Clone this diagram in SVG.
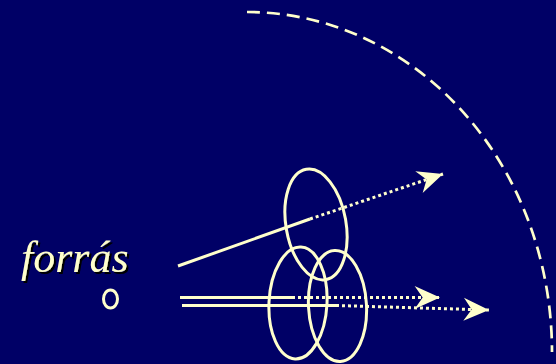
<svg xmlns="http://www.w3.org/2000/svg" width="556" height="364" viewBox="0 0 556 364">
<style>
.ln{fill:none;stroke:#FFFFCC;stroke-width:3}
.dot{fill:none;stroke:#FFFFCC;stroke-width:3;stroke-dasharray:3 3}
.lbl{font-family:"Liberation Serif","Times New Roman",serif;font-style:italic;font-size:44px}
</style>
<defs>
<marker id="ah" markerUnits="userSpaceOnUse" markerWidth="30" markerHeight="30" viewBox="-24 -12 26 24" refX="0" refY="0" orient="auto">
<path d="M0,0 L-22,-10 L-15,0 L-22,10 Z" fill="#FFFFCC"/>
</marker>
<filter id="sh" x="-10%" y="-10%" width="130%" height="130%">
<feDropShadow dx="2" dy="2" stdDeviation="0.4" flood-color="#000000" flood-opacity="1"/>
</filter>
</defs>
<rect width="556" height="364" fill="#000066"/>
<g id="horizon">
<path d="M247,12 A305,340 0 0 1 552,352" fill="none" stroke="#FFFFCC" stroke-width="2.7" stroke-dasharray="13 7"/>
</g>
<g id="source">
<text x="21" y="272" class="lbl" fill="#FFFFCC" filter="url(#sh)">forrás</text>
<ellipse cx="110.5" cy="299" rx="7" ry="9" class="ln" stroke-width="2.5"/>
</g>
<g id="lens-top">
<ellipse cx="316" cy="224.5" rx="30" ry="56" transform="rotate(-10 316 224.5)" class="ln"/>
</g>
<g id="lens-left">
<ellipse cx="298" cy="303" rx="29" ry="56" transform="rotate(3 298 303)" class="ln"/>
</g>
<g id="lens-right">
<ellipse cx="337.5" cy="306" rx="29" ry="55.5" transform="rotate(-3 337.5 306)" class="ln"/>
</g>
<g id="connectors">
<line x1="178" y1="266" x2="310" y2="219" class="ln"/>
<line x1="310" y1="219" x2="443" y2="174" class="dot" marker-end="url(#ah)"/>
<line x1="180" y1="297.5" x2="292" y2="297.5" class="ln"/>
<line x1="292" y1="297.5" x2="440" y2="297.5" class="dot" marker-end="url(#ah)"/>
<line x1="182" y1="305.5" x2="336" y2="305.5" class="ln"/>
<line x1="336" y1="305.5" x2="489" y2="310" class="dot" marker-end="url(#ah)"/>
</g>
</svg>
